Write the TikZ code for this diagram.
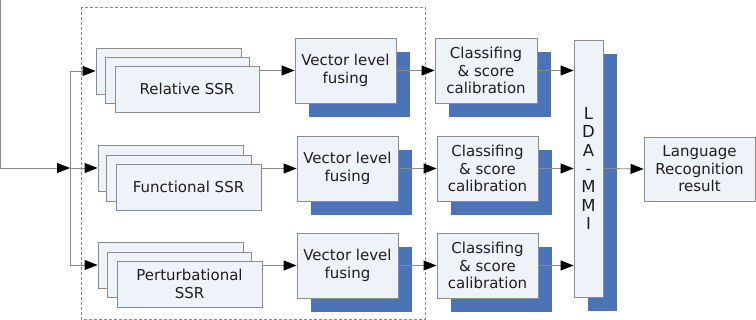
\documentclass[tikz,border=0pt]{standalone}
\usepackage{fontspec}
\setmainfont{DejaVu Sans}
\usetikzlibrary{arrows.meta,shadows}
\definecolor{boxfill}{HTML}{EEF3FA}
\definecolor{boxline}{HTML}{8C8C8C}
\definecolor{shade}{HTML}{4A73B8}
\definecolor{wire}{HTML}{8A8A8A}
\definecolor{ink}{HTML}{1E1E1E}
% block from corner (#2,#3) to corner (#4,#5), name #1, options #6, text #7
\newcommand\blk[7]{%
  \node[box,#6,minimum width={#4pt-#2pt},minimum height={#5pt-#3pt}]
    (#1) at ({(#2+#4)/2},{(#3+#5)/2}) {#7};}
\begin{document}
\begin{tikzpicture}[x=1pt,y=-1pt,
  box/.style={draw=boxline,fill=boxfill,line width=0.9pt,inner sep=0pt,
    text=ink,align=center,font=\fontsize{15}{17.5}\selectfont},
  shadowed/.style={drop shadow={shadow xshift=14pt,shadow yshift=-14pt,
    fill=shade,opacity=1}},
  wireline/.style={draw=wire,line width=0.9pt},
  arr/.style={wireline,-{Triangle[length=13pt,width=10pt,color=black]}},
  group/.style={draw=wire,line width=0.7pt,dash pattern=on 3pt off 2pt}]

\useasboundingbox (0,0) rectangle (756,320);

% dashed group around the feature branches
\draw[group] (81,7) rectangle (425,319);

% stacked SSR feature boxes
\blk{relA}{96}{48}{241}{94}{}{}
\blk{relB}{105}{57}{249}{103}{}{}
\blk{relC}{115}{66}{259}{112}{}{Relative SSR}
\blk{funA}{98}{145}{243}{191}{}{}
\blk{funB}{106}{155}{251}{201}{}{}
\blk{funC}{116}{164}{261}{210}{}{Functional SSR}
\blk{perA}{98}{242}{243}{288}{}{}
\blk{perB}{107}{252}{251}{297}{}{}
\blk{perC}{117}{261}{262}{307}{}{Perturbational\\SSR}

% vector level fusing
\blk{vlfA}{295}{38}{396}{103}{shadowed}{Vector level\\fusing}
\blk{vlfB}{297}{136}{398}{201}{shadowed}{Vector level\\fusing}
\blk{vlfC}{297}{233}{398}{298}{shadowed}{Vector level\\fusing}

% classifying and calibration
\blk{clsA}{435}{38}{537}{103}{shadowed}{Classifing\\\& score\\calibration}
\blk{clsB}{437}{136}{538}{201}{shadowed}{Classifing\\\& score\\calibration}
\blk{clsC}{437}{233}{538}{298}{shadowed}{Classifing\\\& score\\calibration}

% fusion back end
\blk{lda}{574}{40}{603}{297}{shadowed,font=\fontsize{16.5}{18.3}\selectfont}{L\\D\\A\\-\\M\\M\\I}
\blk{res}{644}{137}{755}{201}{}{Language\\Recognition\\result}

% input and split
\coordinate (in) at (0.5,0);
\coordinate (split) at (70,168);
\draw[arr] (in) |- (split);
\draw[arr] (split) |- (relA.west);
\draw[arr] (split) -- (funA.west);
\draw[arr] (split) |- (perA.west);

% branch connectors
\draw[arr] (relC.east |- vlfA.west) -- (vlfA.west);
\draw[arr] (funC.east |- vlfB.west) -- (vlfB.west);
\draw[arr] (perC.east |- vlfC.west) -- (vlfC.west);
\draw[arr] (vlfA.east) -- (clsA.west);
\draw[arr] (vlfB.east) -- (clsB.west);
\draw[arr] (vlfC.east) -- (clsC.west);
\draw[arr] (clsA.east) -- (lda.west |- clsA.east);
\draw[arr] (clsB.east) -- (lda.west |- clsB.east);
\draw[arr] (clsC.east) -- (lda.west |- clsC.east);
\draw[arr] (lda.east) -- (res.west);
\end{tikzpicture}
\end{document}
